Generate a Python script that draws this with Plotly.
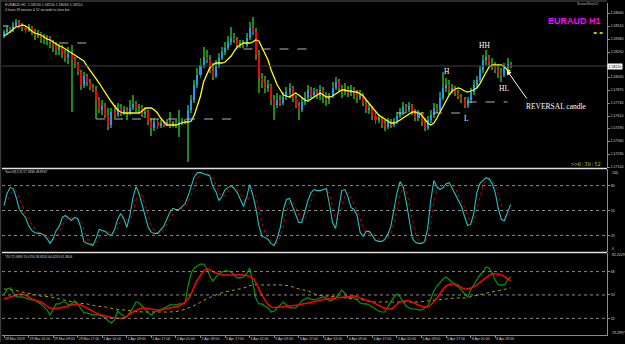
import plotly.graph_objects as go
from plotly.subplots import make_subplots

# ---------------- data ----------------
bar_index = list(range(166))  # H1 bars from 28 Mar 2019 17:00 to 8 Apr 2019 14:00

open_ = [1.5841,1.5845,1.5848,1.5846,1.5851,1.5855,1.5852,1.5849,1.5847,1.5850,
         1.5845,1.5842,1.5844,1.5840,1.5837,1.5839,1.5835,1.5832,1.5827,1.5830,
         1.5824,1.5820,1.5823,1.5817,1.5813,1.5805,1.5792,1.5801,1.5795,1.5789,
         1.5787,1.5777,1.5767,1.5771,1.5762,1.5752,1.5765,1.5762,1.5769,1.5764,
         1.5767,1.5764,1.5769,1.5773,1.5769,1.5770,1.5763,1.5765,1.5755,1.5749,
         1.5755,1.5751,1.5754,1.5752,1.5755,1.5751,1.5754,1.5752,1.5755,1.5756,
         1.5755,1.5767,1.5777,1.5792,1.5802,1.5812,1.5820,1.5817,1.5807,1.5801,
         1.5812,1.5819,1.5825,1.5829,1.5835,1.5839,1.5837,1.5832,1.5834,1.5832,
         1.5839,1.5849,1.5845,1.5822,1.5799,1.5795,1.5789,1.5792,1.5777,1.5772,
         1.5777,1.5774,1.5780,1.5785,1.5789,1.5779,1.5771,1.5767,1.5775,1.5779,
         1.5787,1.5782,1.5785,1.5781,1.5787,1.5782,1.5777,1.5781,1.5789,1.5795,
         1.5789,1.5785,1.5788,1.5784,1.5787,1.5783,1.5779,1.5782,1.5774,1.5767,
         1.5769,1.5761,1.5757,1.5759,1.5753,1.5750,1.5755,1.5752,1.5756,1.5761,
         1.5765,1.5770,1.5767,1.5771,1.5765,1.5759,1.5763,1.5755,1.5749,1.5757,
         1.5762,1.5769,1.5767,1.5779,1.5789,1.5792,1.5787,1.5789,1.5784,1.5780,
         1.5777,1.5772,1.5777,1.5785,1.5792,1.5797,1.5807,1.5817,1.5820,1.5814,
         1.5811,1.5807,1.5804,1.5802,1.5809,1.5813]
high = [1.5847,1.5851,1.5850,1.5855,1.5858,1.5857,1.5854,1.5852,1.5853,1.5851,
        1.5848,1.5847,1.5845,1.5843,1.5842,1.5841,1.5837,1.5835,1.5833,1.5832,
        1.5827,1.5830,1.5832,1.5820,1.5815,1.5807,1.5805,1.5803,1.5798,1.5793,
        1.5791,1.5780,1.5777,1.5774,1.5769,1.5769,1.5772,1.5774,1.5773,1.5771,
        1.5770,1.5777,1.5782,1.5776,1.5773,1.5772,1.5769,1.5767,1.5759,1.5759,
        1.5758,1.5757,1.5756,1.5758,1.5765,1.5756,1.5757,1.5767,1.5759,1.5758,
        1.5772,1.5782,1.5797,1.5809,1.5819,1.5830,1.5827,1.5822,1.5814,1.5817,
        1.5824,1.5830,1.5835,1.5841,1.5850,1.5844,1.5840,1.5837,1.5837,1.5844,
        1.5855,1.5860,1.5849,1.5827,1.5804,1.5801,1.5797,1.5793,1.5782,1.5784,
        1.5782,1.5785,1.5790,1.5794,1.5791,1.5782,1.5775,1.5780,1.5785,1.5792,
        1.5790,1.5789,1.5788,1.5792,1.5790,1.5785,1.5784,1.5795,1.5800,1.5798,
        1.5792,1.5794,1.5791,1.5792,1.5790,1.5787,1.5787,1.5784,1.5777,1.5773,
        1.5771,1.5765,1.5763,1.5761,1.5757,1.5759,1.5758,1.5759,1.5765,1.5769,
        1.5775,1.5773,1.5775,1.5773,1.5768,1.5767,1.5765,1.5759,1.5761,1.5767,
        1.5774,1.5773,1.5785,1.5805,1.5799,1.5797,1.5793,1.5791,1.5787,1.5783,
        1.5780,1.5780,1.5789,1.5797,1.5801,1.5811,1.5822,1.5827,1.5822,1.5819,
        1.5815,1.5813,1.5809,1.5814,1.5819,1.5815]
low = [1.5839,1.5843,1.5844,1.5845,1.5850,1.5849,1.5846,1.5844,1.5845,1.5842,
       1.5837,1.5839,1.5834,1.5833,1.5832,1.5829,1.5825,1.5822,1.5822,1.5819,
       1.5815,1.5813,1.5765,1.5809,1.5802,1.5787,1.5789,1.5791,1.5787,1.5785,
       1.5758,1.5764,1.5762,1.5759,1.5747,1.5749,1.5759,1.5760,1.5761,1.5762,
       1.5757,1.5762,1.5767,1.5765,1.5763,1.5760,1.5759,1.5752,1.5741,1.5746,
       1.5748,1.5749,1.5750,1.5751,1.5749,1.5750,1.5749,1.5740,1.5752,1.5753,
       1.5715,1.5764,1.5774,1.5789,1.5799,1.5809,1.5814,1.5804,1.5797,1.5799,
       1.5809,1.5817,1.5822,1.5827,1.5832,1.5834,1.5829,1.5829,1.5829,1.5830,
       1.5837,1.5842,1.5817,1.5784,1.5789,1.5784,1.5785,1.5772,1.5757,1.5769,
       1.5771,1.5772,1.5777,1.5779,1.5775,1.5769,1.5757,1.5765,1.5772,1.5777,
       1.5779,1.5780,1.5778,1.5777,1.5774,1.5771,1.5773,1.5779,1.5787,1.5785,
       1.5779,1.5782,1.5780,1.5781,1.5778,1.5774,1.5777,1.5771,1.5764,1.5763,
       1.5757,1.5753,1.5754,1.5749,1.5746,1.5748,1.5749,1.5750,1.5753,1.5759,
       1.5762,1.5764,1.5765,1.5762,1.5756,1.5756,1.5751,1.5746,1.5747,1.5754,
       1.5759,1.5764,1.5765,1.5777,1.5785,1.5782,1.5784,1.5781,1.5778,1.5774,
       1.5769,1.5769,1.5774,1.5782,1.5789,1.5795,1.5804,1.5812,1.5810,1.5807,
       1.5804,1.5799,1.5795,1.5800,1.5805,1.5809]
close = [1.5845,1.5848,1.5846,1.5851,1.5855,1.5852,1.5849,1.5847,1.5850,1.5845,
         1.5842,1.5844,1.5840,1.5837,1.5839,1.5835,1.5832,1.5827,1.5830,1.5824,
         1.5820,1.5823,1.5817,1.5813,1.5805,1.5792,1.5801,1.5795,1.5789,1.5787,
         1.5777,1.5767,1.5771,1.5762,1.5752,1.5765,1.5762,1.5769,1.5764,1.5767,
         1.5764,1.5769,1.5773,1.5769,1.5770,1.5763,1.5765,1.5755,1.5749,1.5755,
         1.5751,1.5754,1.5752,1.5755,1.5751,1.5754,1.5752,1.5755,1.5756,1.5755,
         1.5767,1.5777,1.5792,1.5802,1.5812,1.5820,1.5817,1.5807,1.5801,1.5812,
         1.5819,1.5825,1.5829,1.5835,1.5839,1.5837,1.5832,1.5834,1.5832,1.5839,
         1.5849,1.5845,1.5822,1.5799,1.5795,1.5789,1.5792,1.5777,1.5772,1.5777,
         1.5774,1.5780,1.5785,1.5789,1.5779,1.5771,1.5767,1.5775,1.5779,1.5787,
         1.5782,1.5785,1.5781,1.5787,1.5782,1.5777,1.5781,1.5789,1.5795,1.5789,
         1.5785,1.5788,1.5784,1.5787,1.5783,1.5779,1.5782,1.5774,1.5767,1.5769,
         1.5761,1.5757,1.5759,1.5753,1.5750,1.5755,1.5752,1.5756,1.5761,1.5765,
         1.5770,1.5767,1.5771,1.5765,1.5759,1.5763,1.5755,1.5749,1.5757,1.5762,
         1.5769,1.5767,1.5779,1.5789,1.5792,1.5787,1.5789,1.5784,1.5780,1.5777,
         1.5772,1.5777,1.5785,1.5792,1.5797,1.5807,1.5817,1.5820,1.5814,1.5811,
         1.5807,1.5804,1.5802,1.5809,1.5813,1.5811]
moving_avg = [1.5841,1.5843,1.5845,1.5848,1.5850,1.5851,1.5852,1.5851,1.5849,1.5846,
              1.5844,1.5843,1.5842,1.5840,1.5838,1.5837,1.5835,1.5833,1.5831,1.5830,
              1.5828,1.5826,1.5824,1.5822,1.5820,1.5818,1.5816,1.5811,1.5807,1.5802,
              1.5798,1.5794,1.5789,1.5784,1.5779,1.5775,1.5771,1.5767,1.5765,1.5764,
              1.5764,1.5764,1.5764,1.5764,1.5764,1.5766,1.5769,1.5769,1.5769,1.5767,
              1.5764,1.5759,1.5755,1.5752,1.5752,1.5752,1.5752,1.5753,1.5754,1.5755,
              1.5755,1.5756,1.5762,1.5771,1.5781,1.5795,1.5803,1.5809,1.5812,1.5814,
              1.5814,1.5814,1.5815,1.5818,1.5821,1.5826,1.5830,1.5832,1.5834,1.5834,
              1.5834,1.5835,1.5837,1.5836,1.5830,1.5824,1.5817,1.5807,1.5799,1.5792,
              1.5787,1.5782,1.5781,1.5780,1.5782,1.5784,1.5782,1.5779,1.5777,1.5776,
              1.5778,1.5780,1.5782,1.5784,1.5782,1.5780,1.5780,1.5781,1.5783,1.5785,
              1.5787,1.5787,1.5786,1.5786,1.5785,1.5785,1.5783,1.5781,1.5777,1.5773,
              1.5769,1.5765,1.5762,1.5760,1.5758,1.5756,1.5754,1.5754,1.5755,1.5757,
              1.5759,1.5761,1.5763,1.5765,1.5765,1.5764,1.5762,1.5758,1.5754,1.5752,
              1.5754,1.5759,1.5765,1.5770,1.5776,1.5782,1.5786,1.5788,1.5789,1.5788,
              1.5786,1.5785,1.5786,1.5787,1.5789,1.5793,1.5799,1.5805,1.5810,1.5812,
              1.5812,1.5812,1.5812,1.5810,1.5807,1.5806]

stoch_k = [56,70.4,77.6,76.4,65.6,51.2,46.4,41.6,32,26,
           23.6,22.4,22.4,20,16.4,10.4,16.4,26,30.8,41.6,
           44,40.4,38,41.6,40.4,29.6,12.8,10.4,9.2,8,
           16.4,27.2,26,24.8,21.2,20,27.2,39.2,46.4,40.4,
           29.6,44,65.6,78.8,70.4,56,40.4,29.6,23.6,22.4,
           22.4,27.2,30.8,39.2,47.6,52.4,51.2,51.2,54.8,58.4,
           68,80,90.8,95.6,95.6,94.4,93.2,92,78.8,72.8,
           62,66.8,75.2,77.6,80,76.4,71.6,63.2,54.8,65.6,
           81.2,69.2,53.6,32,18.8,17.6,15.2,10.4,8,16.4,
           29.6,51.2,63.2,64.4,54.8,42.8,35.6,35.6,48.8,62,
           71.6,75.2,74,74,75.2,76.4,57.2,35.6,28.4,52.4,
           74,75.2,66.8,53.6,51.2,44,23.6,18.8,24.8,24.8,
           20,14,12.8,12.8,15.2,21.2,30.8,50,71.6,84.8,
           78.8,60.8,36.8,16.4,11.6,10.4,10.4,12.8,28.4,62,
           86,78.8,75.2,77.6,82.4,83.6,76.4,69.2,62,54.8,
           42.8,32,33.2,46.4,71.6,82.4,86,89.6,88.4,82.4,
           71.6,52.4,39.2,38,47.6,57.2]
stoch_d = [58,62,68,74.8,73.2,64.4,54.4,46.4,40,33.2,
           27.2,24,22.8,21.6,19.6,15.6,14.4,17.6,24.4,32.8,
           38.8,42,40.8,40,40,37.2,27.6,17.6,10.8,9.2,
           11.2,17.2,23.2,26,24,22,22.8,28.8,37.6,42,
           38.8,38,46.4,62.8,71.6,68.4,55.6,42,31.2,25.2,
           22.8,24,26.8,32.4,39.2,46.4,50.4,51.6,52.4,54.8,
           60.4,68.8,79.6,88.8,94,95.2,94.4,93.2,88,81.2,
           71.2,67.2,68,73.2,77.6,78,76,70.4,63.2,61.2,
           67.2,72,68,51.6,34.8,22.8,17.2,14.4,11.2,11.6,
           18,32.4,48,59.6,60.8,54,44.4,38,40,48.8,
           60.8,69.6,73.6,74.4,74.4,75.2,69.6,56.4,40.4,38.8,
           51.6,67.2,72,65.2,57.2,49.6,39.6,28.8,22.4,22.8,
           23.2,19.6,15.6,13.2,13.6,16.4,22.4,34,50.8,68.8,
           78.4,74.8,58.8,38,21.6,12.8,10.8,11.2,17.2,34.4,
           58.8,75.6,80,77.2,78.4,81.2,80.8,76.4,69.2,62,
           53.2,43.2,36,37.2,50.4,66.8,80,86,88,86.8,
           80.8,68.8,54.4,43.2,41.6,47.6]

tdi_price = [50,54.6,55.4,52.3,48.5,48.5,48.5,47.7,46.9,46.2,
             46.2,44.6,43.1,40.8,38.5,34.6,38.5,43.1,43.1,44.6,
             44.6,42.3,43.1,45.4,43.1,39.2,36.2,36.2,35.4,34.6,
             34.6,34.6,33.8,32.3,30,28.5,30.8,37.7,35.4,33.8,
             33.1,36.2,40,44.6,43.8,41.5,38.5,36.2,34.6,36.9,
             37.7,38.5,40,40.8,42.3,42.3,42.3,43.1,43.1,43.8,
             57.7,66.9,70.8,72.3,73.8,73.8,70.8,64.6,60.8,63.8,
             66.2,67.7,68.5,68.5,67.7,65.4,63.1,63.1,63.8,66.2,
             70.8,60,47.7,43.1,43.1,41.5,40,36.9,37.7,40,
             42.3,44.6,42.3,40,40,40,42.3,45.4,46.9,47.7,
             46.9,46.2,46.9,47.7,48.5,47.7,45.4,46.2,47.7,50.8,
             53.8,51.5,47.7,48.5,47.7,46.2,43.8,43.1,43.1,42.3,
             40.8,39.2,37.7,36.9,36.9,40.8,44.6,48.5,50.8,48.5,
             44.6,41.5,40,39.2,39.2,38.5,38.5,40,41.5,46.9,
             53.1,56.9,60,62.3,63.8,61.5,60,57.7,56.2,53.8,
             50.8,48.5,53.8,57.7,62.3,65.4,67.7,71.5,70.8,66.9,
             61.5,57.7,57.7,57.7,61.5,63.8]
tdi_slow_bars = list(range(0, 166, 3))
tdi_signal = [46.9,49.2,50.8,46.9,44.6,40,40,41.5,43.1,40,
              36.2,33.8,32.3,32.3,36.9,40,39.2,38.5,40,41.5,
              46.9,61.5,70,66.9,65.4,65.4,65.4,63.1,50,40.8,
              40.8,41.5,42.3,43.8,45.4,46.9,47.7,48.5,49.2,46.9,
              44.6,40.8,39.2,44.6,45.4,42.3,40.8,47.7,56.9,58.5,
              54.6,56.2,61.5,66.2,65.4,60.8]
tdi_base = [54.6,53.8,52.3,50.8,49.2,48.5,46.9,45.4,43.8,43.1,
            41.5,40.8,39.2,38.5,37.7,36.9,36.9,36.9,36.9,37.7,
            40,43.1,46.9,50,52.3,53.8,55.4,57.7,57.7,57.7,
            57.7,56.9,54.6,53.1,50,49.2,48.5,47.7,46.9,46.2,
            44.6,44.6,44.6,44.6,44.6,44.6,45.4,46.2,46.9,47.7,
            47.7,49.2,50.8,52.3,53.8,55.4]

time_tick_bars = [0, 8, 16, 24, 32, 40, 48, 56, 64, 72, 80, 88, 96, 104,
                  112, 120, 128, 136, 144, 152, 160]
time_tick_labels = ["28 Mar 2019", "29 Mar 01:00", "29 Mar 09:00", "29 Mar 17:00",
                    "1 Apr 01:00", "1 Apr 09:00", "1 Apr 17:00", "2 Apr 01:00",
                    "2 Apr 09:00", "2 Apr 17:00", "3 Apr 01:00", "3 Apr 09:00",
                    "3 Apr 17:00", "4 Apr 01:00", "4 Apr 09:00", "4 Apr 17:00",
                    "5 Apr 01:00", "5 Apr 09:00", "5 Apr 17:00", "8 Apr 01:00",
                    "8 Apr 09:00"]
price_ticks = [1.5710, 1.5723, 1.5736, 1.5749, 1.5761, 1.5774, 1.5787, 1.5800,
               1.5825, 1.5838, 1.5851, 1.5864]
price_range = [1.5709, 1.5874]
stoch_ticks = [80, 50, 20]
stoch_levels = [80, 50, 20]
stoch_bounds = ["100", "0"]
tdi_ticks = [68, 50, 32]
tdi_levels = [68, 50, 32]
tdi_bounds = ["82.2029", "19.2897"]
tdi_range = [19.18, 82.31]

# support / resistance levels: (price, first bar, last bar)
sr_price = [1.5851, 1.5834, 1.5758, 1.5828, 1.5764, 1.5775]
sr_start = [-0.3, 18, 30, 78, 128, 151]
sr_end = [1.5, 28, 76, 100, 148.5, 164]

# swing labels
swing_text = ["H", "L", "HH", "HL"]
swing_bar = [144.3, 150.8, 156.4, 162.9]
swing_price = [1.5806, 1.5759, 1.5832, 1.5789]

# ---------------- styling ----------------
BULL = "#1e96ff"
BEAR = "#ff0000"
WICK = "#1b8a1b"
AXIS = "#8c8c8c"
TXT = "#d2d2d2"
XR = [-0.65, 196.4]
SMALLFAM = "Liberation Sans"

body_base = [min(o, c) for o, c in zip(open_, close)]
body_len = [abs(c - o) for o, c in zip(open_, close)]
body_col = [BULL if c >= o else BEAR for o, c in zip(open_, close)]
wick_len = [h - l for h, l in zip(high, low)]

fig = make_subplots(rows=3, cols=1, shared_xaxes=True, vertical_spacing=0.0)

fig.add_trace(go.Bar(x=bar_index, y=wick_len, base=low, width=0.32,
                     marker=dict(color=WICK, line=dict(width=0)),
                     hoverinfo="skip"), row=1, col=1)
fig.add_trace(go.Bar(x=bar_index, y=body_len, base=body_base, width=0.66,
                     marker=dict(color=body_col, line=dict(width=0)),
                     hoverinfo="skip"), row=1, col=1)
fig.add_trace(go.Scatter(x=bar_index, y=moving_avg, mode="lines",
                         line=dict(color="#ffff00", width=1.3)), row=1, col=1)

fig.add_trace(go.Scatter(x=bar_index, y=stoch_d, mode="lines",
                         line=dict(color="#c80000", width=1, dash="dot")), row=2, col=1)
fig.add_trace(go.Scatter(x=bar_index, y=stoch_k, mode="lines",
                         line=dict(color="#22c2c2", width=1.1)), row=2, col=1)

fig.add_trace(go.Scatter(x=tdi_slow_bars, y=tdi_base, mode="lines",
                         line=dict(color="#a8a800", width=1, dash="dot", shape="spline")),
              row=3, col=1)
fig.add_trace(go.Scatter(x=bar_index, y=tdi_price, mode="lines",
                         line=dict(color="#009a00", width=1.2)), row=3, col=1)
fig.add_trace(go.Scatter(x=tdi_slow_bars, y=tdi_signal, mode="lines",
                         line=dict(color="#ff0000", width=1.5, shape="spline")),
              row=3, col=1)

shapes = []
shapes.append(dict(type="line", xref="paper", yref="y", x0=0, x1=1,
                   y0=close[-1], y1=close[-1], line=dict(color="#404040", width=1)))
for p, s, e in zip(sr_price, sr_start, sr_end):
    shapes.append(dict(type="line", xref="x", yref="y", x0=s, x1=e, y0=p, y1=p,
                       line=dict(color="#b4b4b4", width=1.2, dash="dash")))
for lv in stoch_levels:
    shapes.append(dict(type="line", xref="paper", yref="y2", x0=0, x1=1, y0=lv, y1=lv,
                       line=dict(color="#8a8a8a", width=1, dash="dot")))
for lv in tdi_levels:
    shapes.append(dict(type="line", xref="paper", yref="y3", x0=0, x1=1, y0=lv, y1=lv,
                       line=dict(color="#8a8a8a", width=1, dash="dot")))
for py in [0.5015, 0.2485]:
    shapes.append(dict(type="line", xref="paper", yref="paper", x0=0, x1=1, y0=py, y1=py,
                       line=dict(color="#e0e0e0", width=1.5)))
shapes.append(dict(type="line", xref="paper", yref="paper", x0=-0.0025, x1=-0.0025,
                   y0=-0.02, y1=1.01, line=dict(color="#3a3a3a", width=1.5)))
shapes.append(dict(type="line", xref="paper", yref="paper", x0=-0.005, x1=1,
                   y0=1.006, y1=1.006, line=dict(color="#3a3a3a", width=1.5)))
shapes.append(dict(type="line", xref="paper", yref="paper", x0=0.978, x1=0.9934,
                   y0=0.9096, y1=0.9096, line=dict(color="#ffff00", width=1.5, dash="dot")))

ann = []
hdr = dict(family=SMALLFAM, size=3.6, color=TXT)
hdr2 = dict(family=SMALLFAM, size=3.2, color=TXT)
ann.append(dict(xref="paper", yref="paper", x=0.0017, y=0.995, xanchor="left",
                yanchor="middle", showarrow=False, font=hdr,
                text="EURAUD,H1  1.58130 1.58150 1.58090 1.58110"))
ann.append(dict(xref="paper", yref="paper", x=0.0017, y=0.980, xanchor="left",
                yanchor="middle", showarrow=False, font=hdr2,
                text="0 hours 39 minutes & 52 seconds to close bar"))
ann.append(dict(xref="paper", yref="paper", x=0.0017, y=0.4895, xanchor="left",
                yanchor="middle", showarrow=False, font=hdr2,
                text="Stoch(8,3,3) 57.3836 48.8967"))
ann.append(dict(xref="paper", yref="paper", x=0.0017, y=0.2364, xanchor="left",
                yanchor="middle", showarrow=False, font=hdr2,
                text="TDI 72.0896 55.4700 38.8520 64.6203 61.3804"))
ann.append(dict(xref="paper", yref="paper", x=0.9934, y=0.9458, xanchor="right",
                yanchor="middle", showarrow=False,
                font=dict(family="Liberation Sans", size=9, color="#ff00ff"),
                text="<b>EURAUD H1</b>"))
ann.append(dict(xref="paper", yref="paper", x=0.988, y=0.997, xanchor="right",
                yanchor="middle", showarrow=False,
                font=dict(family=SMALLFAM, size=3.2, color="#bbbbbb"),
                text="ScreenShot2.0"))
ann.append(dict(xref="paper", yref="paper", x=0.9934, y=0.515, xanchor="right",
                yanchor="middle", showarrow=False,
                font=dict(family="DejaVu Sans Mono", size=5.5, color="#b4b400"),
                text=">>0:39:52"))
ann.append(dict(xref="paper", yref="y", x=1.0, y=close[-1], xanchor="left",
                yanchor="middle", showarrow=False, bgcolor="#ffffff", borderpad=0.5,
                font=dict(family=SMALLFAM, size=3.6, color="#000000"),
                text=f"{close[-1]:.5f}"))
axis_lbl = dict(family=SMALLFAM, size=3.5, color=TXT)
for txt, py in zip(stoch_bounds, [0.4865, 0.259]):
    ann.append(dict(xref="paper", yref="paper", x=1.005, y=py, xanchor="left",
                    yanchor="middle", showarrow=False, font=axis_lbl, text=txt))
for txt, py in zip(tdi_bounds, [0.241, 0.007]):
    ann.append(dict(xref="paper", yref="paper", x=1.005, y=py, xanchor="left",
                    yanchor="middle", showarrow=False, font=axis_lbl, text=txt))
serif = dict(family="Liberation Serif", size=7.5, color="#ffffff")
for t, b, p in zip(swing_text, swing_bar, swing_price):
    ann.append(dict(xref="x", yref="y", x=b, y=p, text=t, showarrow=False,
                    font=serif, xanchor="center", yanchor="middle"))
ann.append(dict(xref="x", yref="y", x=179.8, y=1.5771, text="REVERSAL candle",
                showarrow=False, font=serif, xanchor="center", yanchor="middle"))
ann.append(dict(xref="x", yref="y", x=163.7, y=1.5807, ax=170.6, ay=1.5777,
                axref="x", ayref="y", text="", showarrow=True, arrowhead=2,
                arrowsize=1, arrowwidth=1, arrowcolor="#ffffff"))

fig.update_layout(
    width=625, height=344,
    margin=dict(l=2, r=18, t=3, b=9, autoexpand=False),
    paper_bgcolor="#000000", plot_bgcolor="#000000",
    barmode="overlay", bargap=0,
    showlegend=False, hovermode=False,
    font=dict(family=SMALLFAM, size=3.6, color=TXT),
    shapes=shapes, annotations=ann,
)

for ax in ["xaxis", "xaxis2", "xaxis3"]:
    fig.layout[ax].update(range=XR, showgrid=False, zeroline=False, fixedrange=True,
                          automargin=False)
fig.layout.xaxis.update(showticklabels=False, ticks="", showline=False)
fig.layout.xaxis2.update(showticklabels=False, ticks="", showline=False)
fig.layout.xaxis3.update(tickmode="array", tickvals=time_tick_bars, ticktext=time_tick_labels,
                         ticks="outside", ticklen=2, tickcolor=AXIS, showline=True,
                         linecolor=AXIS, linewidth=1, ticklabelposition="outside right",
                         tickangle=0, tickfont=dict(family=SMALLFAM, size=3.5, color=TXT))

common_y = dict(side="right", showgrid=False, zeroline=False, showline=True,
                linecolor=AXIS, linewidth=1, ticks="outside", ticklen=2, tickcolor=AXIS,
                tickfont=dict(family=SMALLFAM, size=3.5, color=TXT), fixedrange=True,
                automargin=False)
fig.layout.yaxis.update(domain=[0.503, 1.0], range=price_range, tickmode="array",
                        tickvals=price_ticks, tickformat=".5f", **common_y)
fig.layout.yaxis2.update(domain=[0.25, 0.5], range=[0, 100], tickmode="array",
                         tickvals=stoch_ticks, **common_y)
fig.layout.yaxis3.update(domain=[0.0, 0.247], range=tdi_range, tickmode="array",
                         tickvals=tdi_ticks, **common_y)

fig.write_html("out.html")
